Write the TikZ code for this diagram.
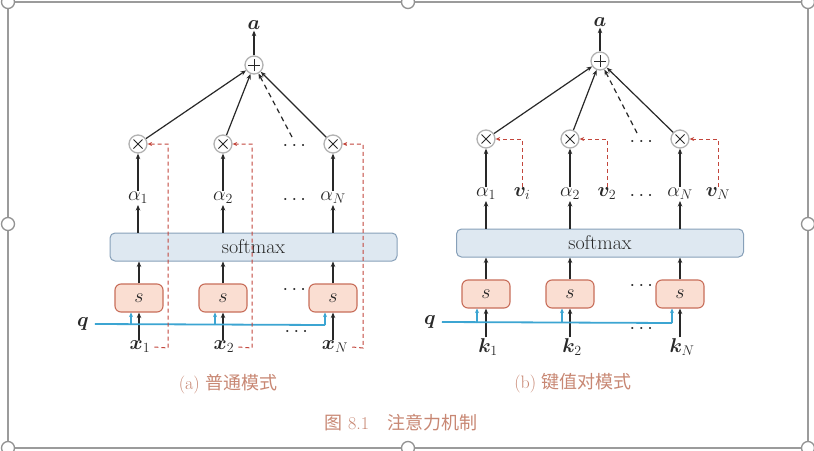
\RequirePackage{fix-cm}
\documentclass[tikz,border=0pt]{standalone}
\usepackage{fontspec}
\usepackage{amsmath}
\usepackage{bm}
\newfontfamily\cjk{Noto Sans CJK SC}
\usetikzlibrary{arrows.meta}
\definecolor{capc}{RGB}{200,135,115}
\definecolor{redd}{RGB}{195,70,60}
\definecolor{bluel}{RGB}{60,165,210}
\definecolor{smfill}{RGB}{222,232,241}
\definecolor{smdraw}{RGB}{135,160,185}
\definecolor{sfill}{RGB}{250,222,210}
\definecolor{sdraw}{RGB}{200,110,90}
\definecolor{gline}{RGB}{40,40,40}
\definecolor{framec}{RGB}{155,155,155}
\tikzset{
  arr/.style={draw=gline, line width=1.2pt, -{Stealth[length=5.5pt,width=4.5pt]}},
  dsh/.style={dash pattern=on 5pt off 4pt},
  reddash/.style={draw=redd, line width=1pt, dash pattern=on 4pt off 3pt, -{Stealth[length=4.5pt,width=4pt]}},
  bline/.style={draw=bluel, line width=1.8pt},
  barr/.style={draw=bluel, line width=1.2pt, -{Stealth[length=4.5pt,width=4pt]}},
  opc/.style={circle, draw=gray!60, line width=1.3pt, minimum size=18pt, inner sep=0pt, fill=white},
  oplus/.style={opc, path picture={
     \draw[gline, line width=1pt] ([xshift=-6pt]path picture bounding box.center) -- ([xshift=6pt]path picture bounding box.center);
     \draw[gline, line width=1pt] ([yshift=-6pt]path picture bounding box.center) -- ([yshift=6pt]path picture bounding box.center);}},
  otimes/.style={opc, path picture={
     \draw[gline, line width=1pt] ([shift={(-4.5pt,-4.5pt)}]path picture bounding box.center) -- ([shift={(4.5pt,4.5pt)}]path picture bounding box.center);
     \draw[gline, line width=1pt] ([shift={(-4.5pt,4.5pt)}]path picture bounding box.center) -- ([shift={(4.5pt,-4.5pt)}]path picture bounding box.center);}},
  smbox/.style={rounded corners=5pt, draw=smdraw, fill=smfill, line width=1pt, minimum width=287pt, minimum height=28pt, font=\fontsize{20}{24}\selectfont, text=gline},
  sbox/.style={rounded corners=6pt, draw=sdraw, fill=sfill, line width=1.1pt, minimum width=48pt, minimum height=28pt, font=\fontsize{20}{24}\selectfont, text=gline},
  lbl/.style={font=\fontsize{20}{24}\selectfont, inner sep=1pt, text=gline},
  capt/.style={font=\fontsize{18}{21}\selectfont, text=capc, inner sep=1pt},
  handle/.style={circle, draw=gray!85, fill=white, line width=1.3pt, minimum size=13pt, inner sep=0pt}
}
\begin{document}
\begin{tikzpicture}[x=1pt,y=-1pt]
\useasboundingbox (0,0) rectangle (814,450);
\fill[white] (0,0) rectangle (814,450);
% frame
\draw[framec, line width=1.2pt] (8,2) rectangle (808,448);

% ================= panel (a) =================
\node[lbl] (aA) at (254,25) {$\bm{a}$};
\node[oplus] (pA) at (254,65) {};
\node[otimes] (mA1) at (138,144) {};
\node[otimes] (mA2) at (223,144) {};
\node[otimes] (mAN) at (333,144) {};
\node[lbl] (alA1) at (138,198) {$\alpha_1$};
\node[lbl] (alA2) at (223,198) {$\alpha_2$};
\node[lbl] (alAN) at (333,198) {$\alpha_N$};
\node[smbox] (smA) at (253.5,247) {softmax};
\node[sbox] (sA1) at (139,298) {$s$};
\node[sbox] (sA2) at (223,298) {$s$};
\node[sbox] (sAN) at (333,298) {$s$};
\node[lbl] (xA1) at (140,347) {$\bm{x}_1$};
\node[lbl] (xA2) at (224,347) {$\bm{x}_2$};
\node[lbl] (xAN) at (335,347) {$\bm{x}_N$};
\node[lbl] (qA) at (83,324) {$\bm{q}$};
\node[lbl] (dA1) at (296,146) {$\cdots$};
\node[lbl] (dA2) at (296,200) {$\cdots$};
\node[lbl] (dA3) at (296,290) {$\cdots$};
\node[lbl] (dA4) at (298,332) {$\cdots$};

\draw[arr] (aA.south |- pA.north) -- (aA);
\draw[arr] (mA1) -- (pA);
\draw[arr] (mA2) -- (pA);
\draw[arr] (mAN) -- (pA);
\coordinate (dsA) at (292,137);
\draw[arr,dsh] (dsA) -- (pA);
\foreach \i in {1,2,N}{
  \draw[arr] (alA\i) -- (mA\i);
  \draw[arr] (smA.north -| alA\i) -- (alA\i);
  \draw[arr] (sA\i) -- (sA\i |- smA.south);
  \draw[arr] (xA\i.north -| sA\i) -- (sA\i);
}
\coordinate (qeA) at (325,325);
\coordinate (qbA1) at (131,325);
\coordinate (qbA2) at (215,325);
\draw[bline] ([xshift=5pt]qA.east) -- (qeA);
\draw[barr] (qeA) -- (qeA |- sAN.south);
\draw[barr] (qbA1) -- (qbA1 |- sA1.south);
\draw[barr] (qbA2) -- (qbA2 |- sA2.south);
\coordinate (rA1) at (168,348);
\coordinate (rA2) at (252,348);
\coordinate (rAN) at (363,348);
\foreach \i in {1,2,N}{
  \draw[reddash] ([xshift=3pt]xA\i.east) -- (rA\i) -- (rA\i |- mA\i) -- (mA\i);
}
\node[capt] (capA) at (228,384) {(a) {\cjk 普通模式}};

% ================= panel (b) =================
\node[lbl] (aB) at (600,22) {$\bm{a}$};
\node[oplus] (pB) at (600,61) {};
\node[otimes] (mB1) at (486,139) {};
\node[otimes] (mB2) at (570,139) {};
\node[otimes] (mBN) at (680,139) {};
\node[lbl] (alB1) at (486,194) {$\alpha_1$};
\node[lbl] (alB2) at (570,194) {$\alpha_2$};
\node[lbl] (alBN) at (680,194) {$\alpha_N$};
\node[lbl] (vB1) at (522,194) {$\bm{v}_i$};
\node[lbl] (vB2) at (607,194) {$\bm{v}_2$};
\node[lbl] (vBN) at (718,194) {$\bm{v}_N$};
\node[smbox] (smB) at (600,243) {softmax};
\node[sbox] (sB1) at (486,294) {$s$};
\node[sbox] (sB2) at (570,294) {$s$};
\node[sbox] (sBN) at (680,294) {$s$};
\node[lbl] (kB1) at (488,347) {$\bm{k}_1$};
\node[lbl] (kB2) at (572,347) {$\bm{k}_2$};
\node[lbl] (kBN) at (682,347) {$\bm{k}_N$};
\node[lbl] (qB) at (430,322) {$\bm{q}$};
\node[lbl] (dB1) at (643,142) {$\cdots$};
\node[lbl] (dB2) at (643,196) {$\cdots$};
\node[lbl] (dB3) at (643,286) {$\cdots$};
\node[lbl] (dB4) at (643,329) {$\cdots$};

\draw[arr] (aB.south |- pB.north) -- (aB);
\draw[arr] (mB1) -- (pB);
\draw[arr] (mB2) -- (pB);
\draw[arr] (mBN) -- (pB);
\coordinate (dsB) at (637,133);
\draw[arr,dsh] (dsB) -- (pB);
\foreach \i in {1,2,N}{
  \draw[arr] (alB\i) -- (mB\i);
  \draw[arr] (smB.north -| alB\i) -- (alB\i);
  \draw[arr] (sB\i) -- (sB\i |- smB.south);
  \draw[arr] (kB\i.north -| sB\i) -- (sB\i);
  \draw[reddash] (vB\i.north) -- (vB\i |- mB\i) -- (mB\i);
}
\coordinate (qeB) at (672,323);
\coordinate (qbB1) at (477,323);
\coordinate (qbB2) at (562,323);
\draw[bline] ([xshift=5pt]qB.east) -- (qeB);
\draw[barr] (qeB) -- (qeB |- sBN.south);
\draw[barr] (qbB1) -- (qbB1 |- sB1.south);
\draw[barr] (qbB2) -- (qbB2 |- sB2.south);
\node[capt] (capB) at (573,383) {(b) {\cjk 键值对模式}};

\node[capt] (fig) at (401,423) {{\cjk 图} 8.1\quad{\cjk 注意力机制}};

% handles
\foreach \p [count=\n] in {(8,2),(408,2),(808,2),(8,224),(808,224),(8,448),(408,448),(808,448)}{
  \node[handle] (h\n) at \p {};
}
\end{tikzpicture}
\end{document}
